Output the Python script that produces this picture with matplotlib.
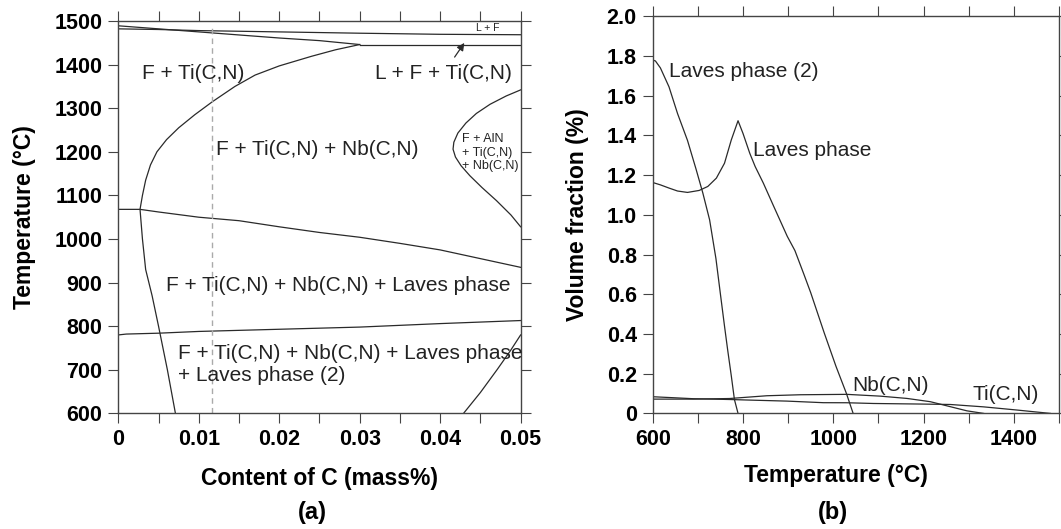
import matplotlib.pyplot as plt
import numpy as np

plt.rcParams['font.family'] = ['Liberation Sans', 'DejaVu Sans']

# ---- (a) phase diagram, C content vs temperature ----
# liquidus / L+F boundaries near the top
l1_x = [0, 0.005, 0.01, 0.015, 0.02, 0.025, 0.030]
l1_y = [1489, 1482, 1475, 1468, 1461, 1455, 1446]
l2_x = [0, 0.005, 0.01, 0.02, 0.03, 0.04, 0.05]
l2_y = [1482, 1480.5, 1478, 1475, 1472, 1469.5, 1468.5]
flat_x = [0.030, 0.05]
flat_y = [1446, 1446]

# F+Ti(C,N) / F+Ti(C,N)+Nb(C,N) boundary
c1_x = [0.0300, 0.027, 0.024, 0.020, 0.017, 0.0145, 0.0117, 0.0095, 0.0075, 0.006, 0.0048,
        0.0040, 0.0034, 0.0030, 0.0027,
        0.0030, 0.0034, 0.0042, 0.0050, 0.0061, 0.0071]
c1_y = [1446, 1434, 1419, 1397, 1376, 1350, 1315, 1285, 1255, 1228, 1200,
        1170, 1135, 1100, 1068,
        1000, 930, 870, 800, 700, 600]

# Laves phase solvus
h1_x = [0, 0.0027, 0.005, 0.01, 0.015, 0.02, 0.025, 0.03, 0.035, 0.04, 0.045, 0.05]
h1_y = [1068, 1068, 1062, 1050, 1042, 1028, 1015, 1004, 990, 975, 955, 935]

# Laves phase (2) solvus
h2_x = [0, 0.001, 0.005, 0.01, 0.02, 0.03, 0.04, 0.05]
h2_y = [780, 782, 784, 788, 793, 798, 806, 813]

# AlN region
c2_x = [0.05, 0.0482, 0.0462, 0.0445, 0.0432, 0.0422, 0.0417, 0.0416, 0.0419, 0.0426, 0.0437,
        0.0452, 0.0470, 0.0488, 0.05]
c2_y = [1342, 1328, 1309, 1288, 1266, 1243, 1222, 1206, 1188, 1168, 1145, 1118, 1088, 1055, 1028]

# lower right boundary
c3_x = [0.0429, 0.0450, 0.0471, 0.0487, 0.0500]
c3_y = [600, 648, 701, 743, 780]

c_steel = 0.0117

xticks_a = [0, 0.005, 0.01, 0.015, 0.02, 0.025, 0.03, 0.035, 0.04, 0.045, 0.05]
xlabels_a = ['0', '', '0.01', '', '0.02', '', '0.03', '', '0.04', '', '0.05']
yticks_a = [600, 700, 800, 900, 1000, 1100, 1200, 1300, 1400, 1500]

# ---- (b) volume fraction vs temperature ----
laves2_t = [600, 606, 617, 636, 655, 677, 696, 711, 726, 740, 750, 759, 766, 774, 781, 789]
laves2_v = [1.78, 1.775, 1.74, 1.645, 1.51, 1.375, 1.23, 1.11, 0.975, 0.78, 0.60, 0.44, 0.32,
            0.19, 0.07, 0]

laves_t = [600, 617, 636, 655, 677, 703, 722, 741, 759, 774, 789, 800, 815, 827, 845, 868,
           898, 915, 935, 950, 980, 1006, 1029, 1044]
laves_v = [1.163, 1.151, 1.135, 1.12, 1.113, 1.123, 1.143, 1.185, 1.26, 1.377, 1.474, 1.41,
           1.31, 1.243, 1.16, 1.043, 0.892, 0.82, 0.70, 0.608, 0.405, 0.237, 0.101, 0]

nb_t = [600, 690, 770, 853, 927, 1030, 1104, 1163, 1215, 1259, 1296, 1333]
nb_v = [0.072, 0.072, 0.075, 0.089, 0.094, 0.096, 0.087, 0.0755, 0.059, 0.034, 0.013, 0]

ti_t = [600, 646, 690, 771, 816, 897, 978, 1030, 1089, 1200, 1259, 1333, 1407, 1481]
ti_v = [0.084, 0.079, 0.074, 0.070, 0.067, 0.062, 0.054, 0.0537, 0.050, 0.047, 0.045, 0.033, 0.017, 0]

xticks_b = [600, 700, 800, 900, 1000, 1100, 1200, 1300, 1400, 1500]
xlabels_b = ['600', '', '800', '', '1000', '', '1200', '', '1400', '']
yticks_b = [0, 0.2, 0.4, 0.6, 0.8, 1.0, 1.2, 1.4, 1.6, 1.8, 2.0]
ylabels_b = ['0', '0.2', '0.4', '0.6', '0.8', '1.0', '1.2', '1.4', '1.6', '1.8', '2.0']

line_c = '#2a2a2a'
lw = 0.9

fig = plt.figure(figsize=(10.61, 5.29), dpi=100)
ax1 = fig.add_axes([0.1115, 0.2185, 0.3792, 0.7418])
ax2 = fig.add_axes([0.6152, 0.2185, 0.3829, 0.7507])


def style(ax):
    for s in ax.spines.values():
        s.set_color('#444444')
        s.set_linewidth(1.0)
    ax.tick_params(direction='out', length=7, width=0.8, color='#444444',
                   top=True, right=True, labelsize=15.5, pad=4.5)
    for lab in ax.get_xticklabels() + ax.get_yticklabels():
        lab.set_fontweight('bold')


# panel (a)
for xs, ys in [(l1_x, l1_y), (l2_x, l2_y), (flat_x, flat_y), (c1_x, c1_y),
               (h1_x, h1_y), (h2_x, h2_y), (c2_x, c2_y), (c3_x, c3_y)]:
    ax1.plot(xs, ys, color=line_c, lw=lw)
ax1.plot([c_steel, c_steel], [600, 1485], color='#aaaaaa', lw=1.0, ls=(0, (4, 3)))

ax1.set_xlim(0, 0.05)
ax1.set_ylim(600, 1500)
ax1.set_xticks(xticks_a)
ax1.set_xticklabels(xlabels_a)
ax1.set_yticks(yticks_a)
style(ax1)
ax1.set_xlabel('Content of C (mass%)', fontsize=16.5, fontweight='bold')
ax1.xaxis.set_label_coords(0.5, -0.137)
ax1.set_ylabel('Temperature (°C)', fontsize=16.5, fontweight='bold')
ax1.yaxis.set_label_coords(-0.205, 0.5)

tk = dict(fontsize=15, color='#222222', ha='left', va='baseline')
ax1.text(0.0029, 1367, 'F + Ti(C,N)', **tk)
ax1.text(0.0319, 1367, 'L + F + Ti(C,N)', **tk)
ax1.text(0.0122, 1192, 'F + Ti(C,N) + Nb(C,N)', **tk)
ax1.text(0.0059, 881, 'F + Ti(C,N) + Nb(C,N) + Laves phase', **tk)
ax1.text(0.0074, 724, 'F + Ti(C,N) + Nb(C,N) + Laves phase', **tk)
ax1.text(0.0074, 674, '+ Laves phase (2)', **tk)
sk = dict(fontsize=9, color='#222222', ha='left', va='baseline')
ax1.text(0.0427, 1222, 'F + AlN', **sk)
ax1.text(0.0427, 1191, '+ Ti(C,N)', **sk)
ax1.text(0.0427, 1161, '+ Nb(C,N)', **sk)
ax1.text(0.0459, 1477, 'L + F', fontsize=7.5, color='#222222', ha='center', va='baseline')
ax1.annotate('', xy=(0.0432, 1455), xytext=(0.0416, 1412),
             arrowprops=dict(arrowstyle='-|>', color=line_c, lw=0.9, mutation_scale=11))

# panel (b)
for ts, vs in [(laves2_t, laves2_v), (laves_t, laves_v), (nb_t, nb_v), (ti_t, ti_v)]:
    ax2.plot(ts, vs, color=line_c, lw=lw)
ax2.set_xlim(600, 1500)
ax2.set_ylim(0, 2.0)
ax2.set_xticks(xticks_b)
ax2.set_xticklabels(xlabels_b)
ax2.set_yticks(yticks_b)
ax2.set_yticklabels(ylabels_b)
style(ax2)
ax2.set_xlabel('Temperature (°C)', fontsize=16.5, fontweight='bold')
ax2.xaxis.set_label_coords(0.45, -0.127)
ax2.set_ylabel('Volume fraction (%)', fontsize=16.5, fontweight='bold')
ax2.yaxis.set_label_coords(-0.157, 0.5)

ax2.text(636, 1.692, 'Laves phase (2)', **tk)
ax2.text(823, 1.297, 'Laves phase', **tk)
ax2.text(1042, 0.112, 'Nb(C,N)', **tk)
ax2.text(1308, 0.068, 'Ti(C,N)', **tk)

fig.text(0.294, 1 - 512 / 529, '(a)', fontsize=17, fontweight='bold', ha='center', va='center')
fig.text(0.785, 1 - 513 / 529, '(b)', fontsize=17, fontweight='bold', ha='center', va='center')

fig.savefig('out.png', dpi=100)
